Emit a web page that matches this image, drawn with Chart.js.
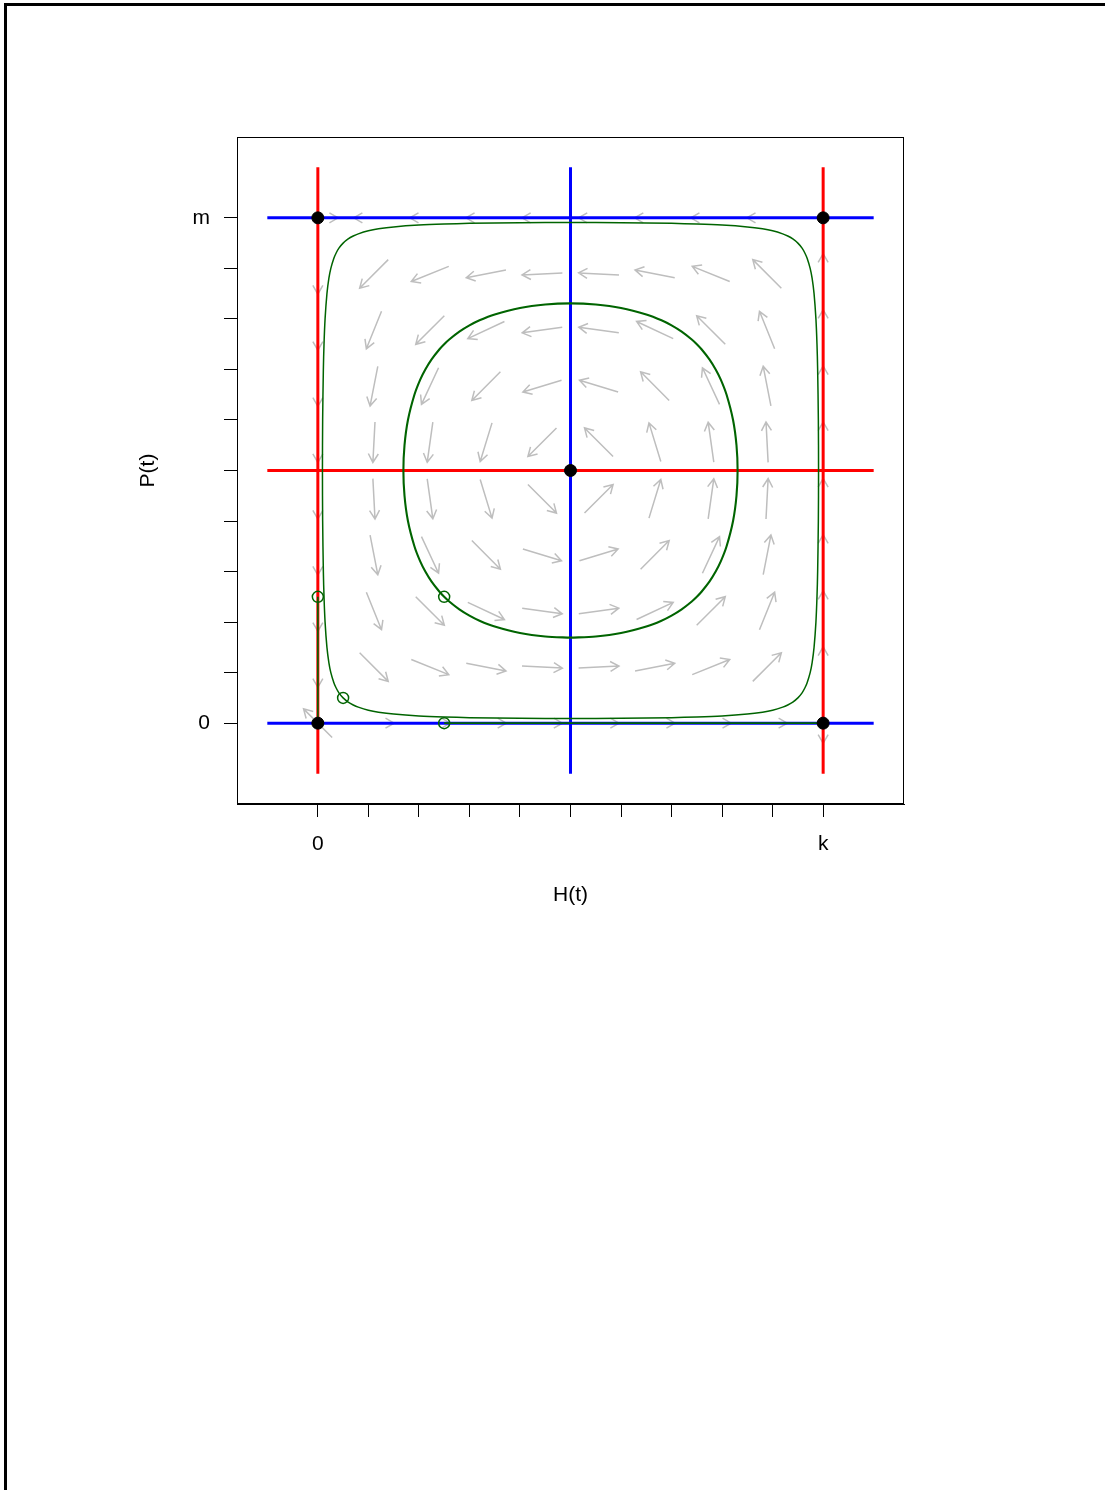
<!DOCTYPE html>
<html lang="en">
<head>
<meta charset="UTF-8">
<title>Phase plane H(t) / P(t)</title>
<script src="https://cdn.jsdelivr.net/npm/chart.js"></script>
<style>
  html, body { margin: 0; padding: 0; background: #fff; }
  #frame { position: absolute; left: 4px; top: 3px; width: 1101px; height: 1487px;
           border-left: 3px solid #000; border-top: 3px solid #000; box-sizing: border-box; }
  #myChart { position: absolute; left: 0; top: 0; }
</style>
</head>
<body>
<div id="frame"></div>
<canvas id="myChart" width="1105" height="1490"></canvas>

<script>
// axis ticks (H scaled by k, P scaled by m)
const hTicks = [0, 0.1, 0.2, 0.3, 0.4, 0.5, 0.6, 0.7, 0.8, 0.9, 1];
const hTickLabels = ['0', '', '', '', '', '', '', '', '', '', 'k'];
const pTicks = [0, 0.1, 0.2, 0.3, 0.4, 0.5, 0.6, 0.7, 0.8, 0.9, 1];
const pTickLabels = ['0', '', '', '', '', '', '', '', '', '', 'm'];

// flow field grid and arrow direction (degrees), one row per P value, bottom to top
const hGrid = [0, 0.111, 0.222, 0.333, 0.444, 0.556, 0.667, 0.778, 0.889, 1];
const pGrid = [0, 0.111, 0.222, 0.333, 0.444, 0.556, 0.667, 0.778, 0.889, 1];
const arrowAngle = [
  [135, 0, 0, 0, 0, 0, 0, 0, 0, 270],
  [270, 315, 338, 349, 357, 3, 11, 22, 45, 90],
  [270, 292, 315, 335, 352, 8, 25, 45, 68, 90],
  [270, 281, 295, 315, 343, 17, 45, 65, 79, 90],
  [270, 273, 278, 287, 315, 45, 73, 82, 87, 90],
  [270, 267, 262, 253, 225, 135, 107, 98, 93, 90],
  [270, 259, 245, 225, 197, 163, 135, 115, 101, 90],
  [270, 248, 225, 205, 188, 172, 155, 135, 112, 90],
  [270, 225, 202, 191, 183, 177, 169, 158, 135, 90],
  [0, 180, 180, 180, 180, 180, 180, 180, 180, null]
];

// nullclines
const redLines = [[[0, -0.1], [0, 1.1]], [[1, -0.1], [1, 1.1]], [[-0.1, 0.5], [1.1, 0.5]]];
const blueLines = [[[0.5, -0.1], [0.5, 1.1]], [[-0.1, 0], [1.1, 0]], [[-0.1, 1], [1.1, 1]]];

// equilibria and trajectory starting points
const eqH = [0, 0, 1, 1, 0.5];
const eqP = [0, 1, 0, 1, 0.5];
const startH = [0, 0.25, 0.05, 0.25];
const startP = [0.25, 0.25, 0.05, 0];

// trajectories
const outerOrbit = [
  [0.5, 0.0091], [0.4, 0.0095], [0.3, 0.0109], [0.25, 0.0122], [0.2, 0.0143], [0.15, 0.018], [0.12, 0.0218],
  [0.1, 0.0257], [0.08, 0.0317], [0.07, 0.036], [0.06, 0.0417], [0.05, 0.05], [0.0417, 0.06], [0.036, 0.07],
  [0.0317, 0.08], [0.0257, 0.1], [0.0218, 0.12], [0.018, 0.15], [0.0143, 0.2], [0.0122, 0.25], [0.0109, 0.3],
  [0.0095, 0.4], [0.0091, 0.5],
  [0.0095, 0.6], [0.0109, 0.7], [0.0122, 0.75], [0.0143, 0.8], [0.018, 0.85], [0.0218, 0.88], [0.0257, 0.9],
  [0.0317, 0.92], [0.036, 0.93], [0.0417, 0.94], [0.05, 0.95], [0.06, 0.9583], [0.07, 0.964], [0.08, 0.9683],
  [0.1, 0.9743], [0.12, 0.9782], [0.15, 0.982], [0.2, 0.9857], [0.25, 0.9878], [0.3, 0.9891], [0.4, 0.9905],
  [0.5, 0.9909],
  [0.6, 0.9905], [0.7, 0.9891], [0.75, 0.9878], [0.8, 0.9857], [0.85, 0.982], [0.88, 0.9782], [0.9, 0.9743],
  [0.92, 0.9683], [0.93, 0.964], [0.94, 0.9583], [0.95, 0.95], [0.9583, 0.94], [0.964, 0.93], [0.9683, 0.92],
  [0.9743, 0.9], [0.9782, 0.88], [0.982, 0.85], [0.9857, 0.8], [0.9878, 0.75], [0.9891, 0.7], [0.9905, 0.6],
  [0.9909, 0.5],
  [0.9905, 0.4], [0.9891, 0.3], [0.9878, 0.25], [0.9857, 0.2], [0.982, 0.15], [0.9782, 0.12], [0.9743, 0.1],
  [0.9683, 0.08], [0.964, 0.07], [0.9583, 0.06], [0.95, 0.05], [0.94, 0.0417], [0.93, 0.036], [0.92, 0.0317],
  [0.9, 0.0257], [0.88, 0.0218], [0.85, 0.018], [0.8, 0.0143], [0.75, 0.0122], [0.7, 0.0109], [0.6, 0.0095],
  [0.5, 0.0091]
];
const innerOrbit = [
  [0.5, 0.1693], [0.45, 0.1715], [0.4, 0.1783], [0.35, 0.1911], [0.32, 0.2026], [0.3, 0.2127], [0.28, 0.2251],
  [0.26, 0.2407], [0.25, 0.25], [0.2407, 0.26], [0.2251, 0.28], [0.2127, 0.3], [0.2026, 0.32], [0.1911, 0.35],
  [0.1783, 0.4], [0.1715, 0.45], [0.1693, 0.5],
  [0.1715, 0.55], [0.1783, 0.6], [0.1911, 0.65], [0.2026, 0.68], [0.2127, 0.7], [0.2251, 0.72], [0.2407, 0.74],
  [0.25, 0.75], [0.26, 0.7593], [0.28, 0.7749], [0.3, 0.7873], [0.32, 0.7974], [0.35, 0.8089], [0.4, 0.8217],
  [0.45, 0.8285], [0.5, 0.8307],
  [0.55, 0.8285], [0.6, 0.8217], [0.65, 0.8089], [0.68, 0.7974], [0.7, 0.7873], [0.72, 0.7749], [0.74, 0.7593],
  [0.75, 0.75], [0.7593, 0.74], [0.7749, 0.72], [0.7873, 0.7], [0.7974, 0.68], [0.8089, 0.65], [0.8217, 0.6],
  [0.8285, 0.55], [0.8307, 0.5],
  [0.8285, 0.45], [0.8217, 0.4], [0.8089, 0.35], [0.7974, 0.32], [0.7873, 0.3], [0.7749, 0.28], [0.7593, 0.26],
  [0.75, 0.25], [0.74, 0.2407], [0.72, 0.2251], [0.7, 0.2127], [0.68, 0.2026], [0.65, 0.1911], [0.6, 0.1783],
  [0.55, 0.1715], [0.5, 0.1693]
];
const axisOrbits = [[[0, 0.25], [0, 0.002]], [[0.25, 0], [0.998, 0]]];

// ---------------------------------------------------------------
const toXY = pts => pts.map(([x, y]) => ({ x, y }));
const axisFont = { family: "'Liberation Sans', Arial, sans-serif", size: 21 };

const lineSet = (pts, color, width, order, tension = 0) => ({
  data: toXY(pts), showLine: true, borderColor: color, borderWidth: width,
  pointRadius: 0, tension, order, fill: false
});

const datasets = [
  {
    data: eqH.map((h, i) => ({ x: h, y: eqP[i] })), showLine: false,
    pointRadius: 6, pointBackgroundColor: '#000', pointBorderColor: '#000', order: 0
  },
  {
    data: startH.map((h, i) => ({ x: h, y: startP[i] })), showLine: false,
    pointRadius: 5.5, pointBorderWidth: 1.5, pointBackgroundColor: 'rgba(0,0,0,0)',
    pointBorderColor: '#006400', order: 1
  },
  lineSet(outerOrbit, '#006400', 1.5, 2, 0.3),
  lineSet(innerOrbit, '#006400', 2.1, 2, 0.3),
  ...axisOrbits.map(s => lineSet(s, '#006400', 1.6, 2)),
  ...blueLines.map(s => lineSet(s, '#0000ff', 3, 3)),
  ...redLines.map(s => lineSet(s, '#ff0000', 3, 4))
];

// gray flow-field arrows under everything, plus the closed plot box
const flowField = {
  id: 'flowField',
  beforeDatasetsDraw(chart) {
    const { ctx, chartArea, scales: { x, y } } = chart;
    const arrowLen = 0.08, head = 10, spread = Math.PI / 6;
    ctx.save();
    ctx.beginPath();
    ctx.rect(chartArea.left, chartArea.top, chartArea.width, chartArea.height);
    ctx.clip();
    ctx.strokeStyle = '#bebebe';
    ctx.lineWidth = 1.5;
    pGrid.forEach((p, j) => hGrid.forEach((h, i) => {
      const a = arrowAngle[j][i];
      if (a === null) return;
      const r = a * Math.PI / 180;
      const dx = Math.cos(r) * arrowLen / 2, dy = Math.sin(r) * arrowLen / 2;
      const x0 = x.getPixelForValue(h - dx), y0 = y.getPixelForValue(p - dy);
      const x1 = x.getPixelForValue(h + dx), y1 = y.getPixelForValue(p + dy);
      const t = Math.atan2(y1 - y0, x1 - x0);
      ctx.beginPath();
      ctx.moveTo(x0, y0);
      ctx.lineTo(x1, y1);
      ctx.moveTo(x1 - head * Math.cos(t - spread), y1 - head * Math.sin(t - spread));
      ctx.lineTo(x1, y1);
      ctx.lineTo(x1 - head * Math.cos(t + spread), y1 - head * Math.sin(t + spread));
      ctx.stroke();
    }));
    ctx.restore();
  },
  afterDraw(chart) {
    const { ctx, chartArea: a } = chart;
    ctx.save();
    ctx.strokeStyle = '#000';
    ctx.lineWidth = 1;
    ctx.strokeRect(Math.round(a.left) + 0.5, Math.round(a.top) + 0.5,
                   Math.round(a.width) - 1, Math.round(a.height) - 1);
    ctx.restore();
  }
};

const axisCommon = {
  type: 'linear', min: -0.16, max: 1.16,
  grid: { drawOnChartArea: false, drawTicks: true, tickLength: 13, color: '#000', tickWidth: 1 },
  border: { display: true, color: '#000', width: 1 }
};

new Chart(document.getElementById('myChart'), {
  type: 'scatter',
  data: { datasets },
  options: {
    responsive: false,
    animation: false,
    devicePixelRatio: 1,
    layout: { padding: { left: 127, right: 201, top: 137, bottom: 576 } },
    plugins: { legend: { display: false }, tooltip: { enabled: false } },
    scales: {
      x: {
        ...axisCommon,
        afterBuildTicks: s => { s.ticks = hTicks.map(v => ({ value: v })); },
        afterFit: s => { s.height = 110; },
        ticks: { color: '#000', font: axisFont, padding: 15, maxRotation: 0, autoSkip: false,
                 callback: (v, i) => hTickLabels[i] },
        title: { display: true, text: 'H(t)', color: '#000', font: axisFont, padding: { top: 0, bottom: 6 } }
      },
      y: {
        ...axisCommon,
        afterBuildTicks: s => { s.ticks = pTicks.map(v => ({ value: v })); },
        afterFit: s => { s.width = 110; },
        ticks: { color: '#000', font: axisFont, padding: 14, autoSkip: false,
                 callback: (v, i) => pTickLabels[i] },
        title: { display: true, text: 'P(t)', color: '#000', font: axisFont, padding: { top: 9, bottom: 0 } }
      }
    }
  },
  plugins: [flowField]
});
</script>
</body>
</html>
